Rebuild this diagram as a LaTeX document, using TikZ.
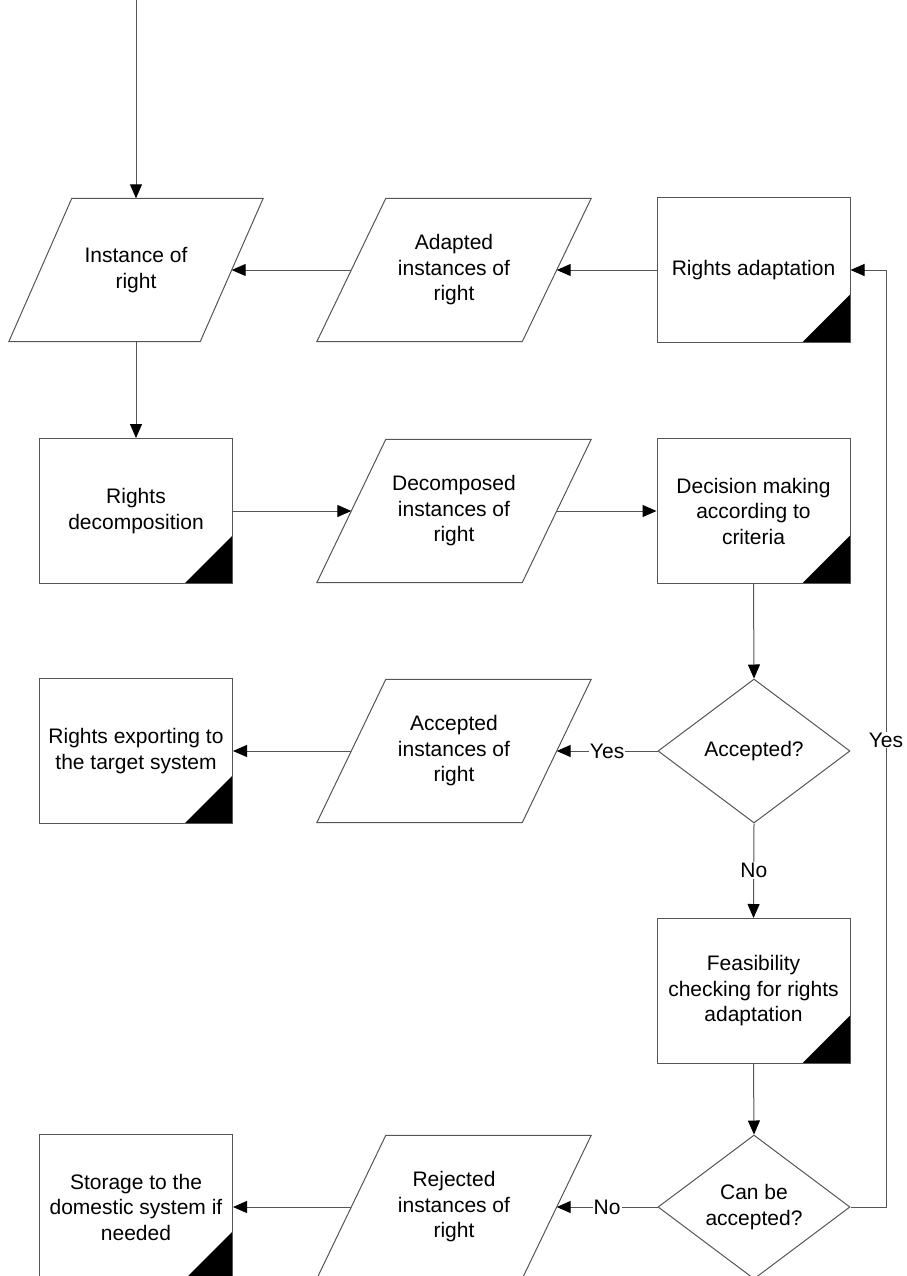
\documentclass[tikz,border=0pt]{standalone}
\usepackage{fontspec}
\setmainfont{Liberation Sans}
\usetikzlibrary{arrows.meta,shapes.geometric}

\definecolor{edge}{RGB}{85,85,85}

% outline of a data (parallelogram) node: #1 = node name, #2 = half of the slant
\newcommand\datashape[2]{%
  \draw[draw=edge, line width=1pt]
    ([xshift=#2]#1.north west) -- ([xshift=#2]#1.north east)
    -- ([xshift=-#2]#1.south east) -- ([xshift=-#2]#1.south west) -- cycle;}

\begin{document}
\begin{tikzpicture}[x=1pt,y=-1pt,
  every node/.style={font=\fontsize{21}{25.5}\selectfont, align=center, text=black},
  proc/.style={draw=edge, line width=1pt, fill=white,
    minimum width=193pt, minimum height=145pt, inner sep=0pt,
    path picture={\fill[black] (path picture bounding box.south east)
      -- ++(-48pt,0pt) -- ++(48pt,48pt) -- cycle;}},
  data/.style={rectangle, minimum width=205pt, minimum height=143pt, inner sep=0pt},
  decision/.style={diamond, shape aspect=1.33, draw=edge, line width=1pt, fill=white,
    minimum width=192pt, minimum height=144pt, inner sep=0pt},
  conn/.style={draw=edge, line width=1pt, -{Triangle[length=14pt,width=12pt,color=black]}},
  lbl/.style={fill=white, inner sep=1pt}]

\path[use as bounding box, clip] (0,0) rectangle (906,1276);

% row 1
\node[data, minimum width=191pt] (inst) at (136,270) {Instance of\\right};
\node[data] (adapted) at (454,270) {Adapted\\instances of\\right};
\node[proc] (adapt) at (753.5,270) {Rights adaptation};

% row 2
\node[proc] (decomp) at (136,511) {Rights\\decomposition};
\node[data] (decomposed) at (454,511) {Decomposed\\instances of\\right};
\node[proc] (decide) at (753.5,511) {Decision making\\according to\\criteria};

% row 3
\node[decision] (acc) at (754,751) {Accepted?};
\node[data] (accepted) at (454,751) {Accepted\\instances of\\right};
\node[proc] (export) at (136,751) {Rights exporting to\\the target system};

% row 4
\node[proc] (feas) at (753.5,991) {Feasibility\\checking for rights\\adaptation};

% row 5
\node[decision] (can) at (754,1207) {Can be\\accepted?};
\node[data] (rejected) at (454,1207) {Rejected\\instances of\\right};
\node[proc] (store) at (136,1207) {Storage to the\\domestic system if\\needed};

% parallelogram outlines
\datashape{inst}{31.5pt}
\datashape{adapted}{34.5pt}
\datashape{decomposed}{34.5pt}
\datashape{accepted}{34.5pt}
\datashape{rejected}{34.5pt}

% connectors
\coordinate (start) at (136,0);
\draw[conn] (start) -- (inst.north);
\draw[conn] (inst.south) -- (decomp.north);
\draw[conn] (adapt.west) -- (adapted.east);
\draw[conn] (adapted.west) -- (inst.east);
\draw[conn] (decomp.east) -- (decomposed.west);
\draw[conn] (decomposed.east) -- (decide.west);
\draw[conn] (decide.south) -- (acc.north);
\draw[conn] (acc.west) -- node[lbl] (yes1) {Yes} (accepted.east);
\draw[conn] (accepted.west) -- (export.east);
\draw[conn] (acc.south) -- node[lbl] (no1) {No} (feas.north);
\draw[conn] (feas.south) -- (can.north);
\draw[conn] (can.west) -- node[lbl] (no2) {No} (rejected.east);
\draw[conn] (rejected.west) -- (store.east);
\coordinate (loop) at (886,270);
\draw[conn] (can.east) -| (loop) -- (adapt.east);
\node[lbl] (yes2) at (886,740) {Yes};

\end{tikzpicture}
\end{document}
